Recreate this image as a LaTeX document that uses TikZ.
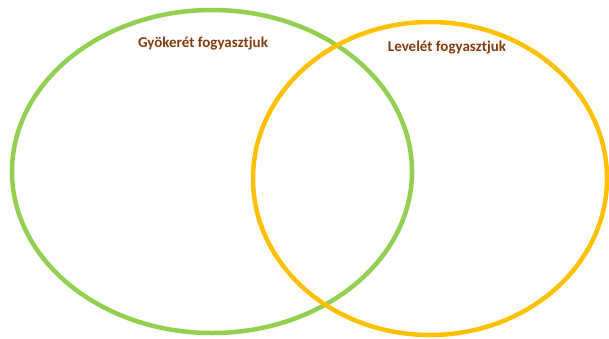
\documentclass[tikz,border=0pt]{standalone}
\usepackage{fontspec}
\setmainfont{Carlito}
\definecolor{rootgreen}{HTML}{92D050}
\definecolor{leafgold}{HTML}{FFC000}
\definecolor{labelbrown}{HTML}{843C0C}
\begin{document}
\begin{tikzpicture}[x=1pt,y=-1pt]

        \useasboundingbox (0,0) rectangle (609,338);

        \begin{scope}[line width=4.5pt]
          \draw[rootgreen] (212,171.5) ellipse [x radius=200, y radius=161.5];
          \draw[leafgold]  (430,178.5) ellipse [x radius=177, y radius=156.5];
        \end{scope}

        \begin{scope}[every node/.style={text=labelbrown, font=\fontsize{15}{18}\selectfont\bfseries}]
          \node (root) at (203,44) {Gyökerét fogyasztjuk};
          \node (leaf) at (447,48) {Levelét fogyasztjuk};
        \end{scope}

      \end{tikzpicture}
\end{document}
